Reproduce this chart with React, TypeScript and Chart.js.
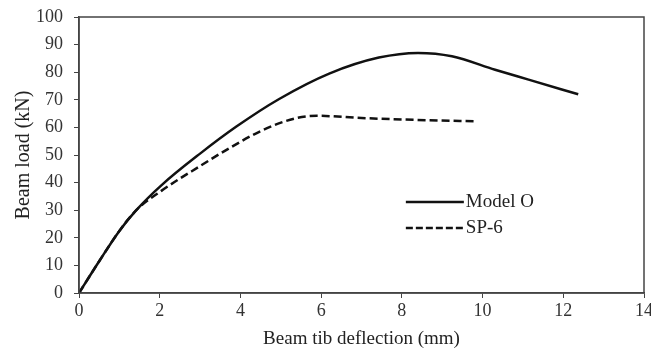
import React, { useEffect, useRef } from "react";
import { Chart, registerables } from "chart.js";

Chart.register(...registerables);

const modelOX = [0, 0.5, 1.0, 1.42, 2.04, 3.0, 3.9, 4.96, 6.2, 7.43, 8.4, 9.24, 10.31, 11.14, 12.37];
const modelOY = [0, 11.5, 22.5, 30, 39, 50.5, 60.3, 70.3, 79.5, 85.3, 87, 85.8, 80.9, 77.3, 72];
const sp6X = [0, 0.5, 1.0, 1.42, 2.04, 3.0, 3.73, 4.55, 5.37, 5.9, 7.0, 8.67, 9.82];
const sp6Y = [0, 11.5, 22.5, 30, 37, 46, 52.5, 59, 63.3, 64.2, 63.4, 62.6, 62.2];
const seriesNames = ["Model O", "SP-6"];
const xTitle = "Beam tib deflection (mm)";
const yTitle = "Beam load (kN)";

const FONT = "'Liberation Serif', 'Times New Roman', serif";

const framePlugin = {
  id: "frame",
  afterDraw(chart: any) {
    const { ctx, chartArea } = chart;
    ctx.save();
    ctx.strokeStyle = "#444";
    ctx.lineWidth = 1.5;
    ctx.strokeRect(chartArea.left, chartArea.top, chartArea.right - chartArea.left, chartArea.bottom - chartArea.top);
    const lx = chartArea.left + (chartArea.right - chartArea.left) * 0.5785;
    const ly = chartArea.top + (chartArea.bottom - chartArea.top) * 0.67;
    const items = [
      { name: seriesNames[0], dash: [] as number[] },
      { name: seriesNames[1], dash: [7, 3] },
    ];
    items.forEach((it, i) => {
      const y = ly + i * 26;
      ctx.beginPath();
      ctx.setLineDash(it.dash);
      ctx.strokeStyle = "#111";
      ctx.lineWidth = 2.5;
      ctx.moveTo(lx, y);
      ctx.lineTo(lx + 58, y);
      ctx.stroke();
      ctx.setLineDash([]);
      ctx.fillStyle = "#222";
      ctx.font = `19px ${FONT}`;
      ctx.textBaseline = "middle";
      ctx.textAlign = "left";
      ctx.fillText(it.name, lx + 60, y);
    });
    ctx.restore();
  },
};

export default function App() {
  const ref = useRef<HTMLCanvasElement>(null);
  useEffect(() => {
    const chart = new Chart(ref.current!, {
      type: "scatter",
      data: {
        datasets: [
          {
            label: seriesNames[0],
            data: modelOX.map((x, i) => ({ x, y: modelOY[i] })),
            showLine: true,
            borderColor: "#111",
            borderWidth: 2.5,
            pointRadius: 0,
            cubicInterpolationMode: "monotone",
          },
          {
            label: seriesNames[1],
            data: sp6X.map((x, i) => ({ x, y: sp6Y[i] })),
            showLine: true,
            borderColor: "#111",
            borderWidth: 2.5,
            borderDash: [8, 4],
            pointRadius: 0,
            cubicInterpolationMode: "monotone",
          },
        ],
      },
      options: {
        animation: false,
        responsive: false,
        maintainAspectRatio: false,
        layout: { padding: { top: 17, left: 0, right: 0, bottom: 0 } },
        plugins: { legend: { display: false }, tooltip: { enabled: false } },
        scales: {
          x: {
            type: "linear",
            min: 0,
            max: 14,
            afterFit: (s: any) => { s.height = 63; },
            ticks: { stepSize: 2, color: "#333", font: { family: FONT, size: 18 }, padding: 2 },
            grid: { drawOnChartArea: false, drawTicks: true, tickLength: 5, color: "#444" },
            border: { color: "#444", width: 1.5 },
            title: { display: true, text: xTitle, color: "#222", font: { family: FONT, size: 19 }, padding: { top: 0, bottom: 6 } },
          },
          y: {
            min: 0,
            max: 100,
            afterFit: (s: any) => { s.width = 79; s.paddingTop = 4; s.paddingBottom = 4; },
            ticks: { stepSize: 10, color: "#333", font: { family: FONT, size: 18 }, padding: 11 },
            grid: { drawOnChartArea: false, drawTicks: true, tickLength: 5, color: "#444" },
            border: { color: "#444", width: 1.5 },
            title: { display: true, text: yTitle, color: "#222", font: { family: FONT, size: 20 }, padding: { top: 12, bottom: 0 } },
          },
        },
      },
      plugins: [framePlugin],
    } as any);
    return () => chart.destroy();
  }, []);
  return (
    <div style={{ position: "fixed", left: 0, top: 0, width: 651, height: 356, overflow: "hidden", background: "#fff" }}>
      <canvas ref={ref} width={655} height={356} style={{ width: 655, height: 356 }} />
    </div>
  );
}
